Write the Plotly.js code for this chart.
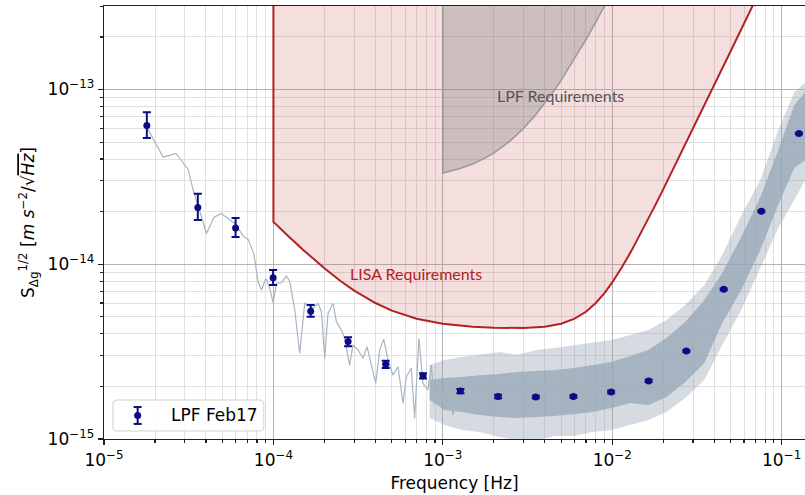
<!DOCTYPE html>
<html><head><meta charset="utf-8">
<script src="https://cdn.plot.ly/plotly-3.0.1.min.js"></script>
<style>html,body{margin:0;padding:0;background:#fff}#chart{width:805px;height:495px}</style>
</head><body><div id="chart"></div>
<script>
// ---- averaged data points (LPF Feb17) ----
const ptsF = [1.79e-5, 3.58e-5, 5.98e-5, 9.96e-5, 1.66e-4, 2.76e-4, 4.60e-4, 7.64e-4, 1.27e-3, 2.12e-3, 3.54e-3, 5.90e-3, 9.85e-3, 1.64e-2, 2.74e-2, 4.55e-2, 7.59e-2, 1.265e-1];
const ptsS = [6.23e-14, 2.11e-14, 1.61e-14, 8.38e-15, 5.38e-15, 3.61e-15, 2.68e-15, 2.30e-15, 1.88e-15, 1.75e-15, 1.74e-15, 1.75e-15, 1.86e-15, 2.15e-15, 3.19e-15, 7.19e-15, 2.01e-14, 5.60e-14];
const errPlus  = [1.19e-14, 4.2e-15, 2.3e-15, 8.9e-16, 4.7e-16, 2.1e-16, 1.2e-16, 8e-17, 5e-17, 4e-17, 3e-17, 3e-17, 3e-17, 3e-17, 4e-17, 8e-17, 2e-16, 5e-16];
const errMinus = [9.5e-15, 3.2e-15, 1.8e-15, 7.8e-16, 3.7e-16, 2.1e-16, 1.3e-16, 8e-17, 5e-17, 4e-17, 3e-17, 3e-17, 3e-17, 3e-17, 4e-17, 8e-17, 2e-16, 5e-16];

// ---- low-frequency part of the noise spectrum ----
const lineF = [1.785e-5, 2.237e-5, 2.657e-5, 3.14e-5, 3.36e-5, 3.65e-5, 4.03e-5, 4.45e-5, 4.91e-5, 5.92e-5, 6.69e-5, 7.09e-5, 7.66e-5, 8.12e-5, 8.51e-5, 9.02e-5, 9.52e-5, 9.96e-5, 1.043e-4, 1.116e-4, 1.194e-4, 1.249e-4, 1.337e-4, 1.430e-4, 1.531e-4, 1.714e-4, 1.834e-4, 1.921e-4, 2.009e-4, 2.101e-4, 2.249e-4, 2.355e-4, 2.520e-4, 2.636e-4, 2.82e-4, 2.95e-4, 3.16e-4, 3.38e-4, 3.57e-4, 3.79e-4, 4.02e-4, 4.24e-4, 4.48e-4, 4.75e-4, 5.08e-4, 5.44e-4, 5.82e-4, 6.09e-4, 6.52e-4, 6.82e-4, 7.23e-4, 7.63e-4, 8.17e-4, 8.55e-4, 8.94e-4, 9.57e-4, 1.025e-3, 1.072e-3, 1.147e-3, 1.227e-3];
const lineS = [6.11e-14, 4.10e-14, 4.31e-14, 3.49e-14, 2.66e-14, 2.04e-14, 1.50e-14, 1.853e-14, 1.954e-14, 1.713e-14, 1.436e-14, 1.388e-14, 1.154e-14, 7.94e-15, 7.12e-15, 8.30e-15, 7.28e-15, 6.02e-15, 7.78e-15, 7.84e-15, 8.56e-15, 7.94e-15, 5.47e-15, 3.09e-15, 5.98e-15, 5.60e-15, 5.98e-15, 5.35e-15, 2.90e-15, 5.24e-15, 5.98e-15, 4.69e-15, 4.20e-15, 3.77e-15, 2.65e-15, 3.45e-15, 3.23e-15, 2.90e-15, 3.38e-15, 2.65e-15, 2.08e-15, 3.23e-15, 3.72e-15, 2.83e-15, 2.32e-15, 2.59e-15, 1.602e-15, 2.27e-15, 2.54e-15, 1.315e-15, 3.77e-15, 2.08e-15, 1.91e-15, 2.65e-15, 1.602e-15, 1.993e-15, 1.531e-15, 2.18e-15, 1.373e-15, 1.827e-15];

// ---- high-frequency noise band (dense core and spike envelope) ----
const bandF = [8.36e-4, 1.025e-3, 1.29e-3, 1.65e-3, 2.16e-3, 2.76e-3, 3.57e-3, 4.56e-3, 5.99e-3, 7.64e-3, 9.89e-3, 1.28e-2, 1.635e-2, 2.09e-2, 2.70e-2, 3.50e-2, 4.46e-2, 5.78e-2, 7.48e-2, 9.55e-2, 0.1187, 0.1377];
const coreHi = [2.18e-15, 2.235e-15, 2.26e-15, 2.32e-15, 2.355e-15, 2.42e-15, 2.45e-15, 2.48e-15, 2.55e-15, 2.65e-15, 2.76e-15, 2.99e-15, 3.23e-15, 3.78e-15, 4.67e-15, 6.24e-15, 8.91e-15, 1.43e-14, 2.42e-14, 4.50e-14, 8.13e-14, 9.65e-14];
const coreLo = [1.673e-15, 1.467e-15, 1.428e-15, 1.373e-15, 1.337e-15, 1.32e-15, 1.337e-15, 1.355e-15, 1.391e-15, 1.428e-15, 1.506e-15, 1.608e-15, 1.567e-15, 1.740e-15, 2.12e-15, 2.72e-15, 4.61e-15, 7.12e-15, 1.206e-14, 2.18e-14, 3.55e-14, 3.94e-14];
const spikeHi = [2.65e-15, 2.83e-15, 2.95e-15, 3.03e-15, 3.15e-15, 3.03e-15, 3.23e-15, 3.32e-15, 3.45e-15, 3.59e-15, 3.69e-15, 3.94e-15, 4.20e-15, 4.80e-15, 5.84e-15, 7.60e-15, 1.129e-14, 1.91e-14, 3.03e-14, 5.85e-14, 9.65e-14, 1.10e-13];
const spikeLo = [1.32e-15, 1.203e-15, 1.127e-15, 1.098e-15, 1.028e-15, 0.98e-15, 0.98e-15, 1.041e-15, 1.041e-15, 1.098e-15, 1.127e-15, 1.203e-15, 1.285e-15, 1.428e-15, 1.717e-15, 2.18e-15, 3.45e-15, 5.47e-15, 9.51e-15, 1.61e-14, 2.33e-14, 3.03e-14];

// ---- requirement curves ----
const lisaF = [1e-4, 1.2e-4, 1.5e-4, 2e-4, 2.5e-4, 3e-4, 4e-4, 5e-4, 7e-4, 1e-3, 1.5e-3, 2e-3, 3e-3, 4e-3, 5e-3, 6e-3, 7e-3, 8e-3, 9e-3, 1e-2, 1.15e-2, 1.3e-2, 1.6e-2, 1.8e-2, 2e-2, 2.5e-2, 3e-2, 3.5e-2, 4e-2, 4.5e-2, 5e-2, 6e-2, 6.5e-2, 7e-2];
const lisaS = [1.748e-14, 1.476e-14, 1.208e-14, 9.48e-15, 8.0e-15, 7.07e-15, 6.0e-15, 5.43e-15, 4.88e-15, 4.57e-15, 4.39e-15, 4.33e-15, 4.32e-15, 4.39e-15, 4.57e-15, 4.88e-15, 5.35e-15, 6.00e-15, 6.84e-15, 7.87e-15, 9.73e-15, 1.197e-14, 1.748e-14, 2.188e-14, 2.684e-14, 4.16e-14, 5.98e-14, 8.13e-14, 1.061e-13, 1.342e-13, 1.657e-13, 2.385e-13, 2.80e-13, 3.247e-13];
const lpfF = [1e-3, 1.25e-3, 1.5e-3, 1.75e-3, 2e-3, 2.5e-3, 3e-3, 3.5e-3, 4e-3, 4.5e-3, 5e-3, 6e-3, 7e-3, 8e-3, 9e-3, 1e-2];
const lpfS = [3.33e-14, 3.52e-14, 3.75e-14, 4.02e-14, 4.33e-14, 5.08e-14, 6.0e-14, 7.08e-14, 8.33e-14, 9.75e-14, 1.133e-13, 1.5e-13, 1.933e-13, 2.433e-13, 3.0e-13, 3.633e-13];
const CEIL = 1e-12;

// ---- tick labels ----
const xTicks = [1e-5, 1e-4, 1e-3, 1e-2, 1e-1];
const xTickText = ['10<sup>−5</sup>', '10<sup>−4</sup>', '10<sup>−3</sup>', '10<sup>−2</sup>', '10<sup>−1</sup>'];
const yTicks = [1e-15, 1e-14, 1e-13];
const yTickText = ['10<sup>−15</sup>', '10<sup>−14</sup>', '10<sup>−13</sup>'];
const legendLabel = 'LPF Feb17';

function minorTicks(decades) {
  const out = [];
  decades.forEach(d => { for (let m = 2; m <= 9; m++) out.push(m * d); });
  return out;
}
const xMinor = minorTicks([1e-5, 1e-4, 1e-3, 1e-2, 1e-1]);
const yMinor = minorTicks([1e-16, 1e-15, 1e-14, 1e-13]);

function polygon(f, hi, lo) {
  return { x: f.concat(f.slice().reverse()), y: hi.concat(lo.slice().reverse()) };
}
const spikePoly = polygon(bandF, spikeHi, spikeLo);
const corePoly = polygon(bandF, coreHi, coreLo);

const NAVY = '#0b0b86';
const traces = [
  { x: [lisaF[0]].concat(lisaF, [lisaF[lisaF.length-1]]), y: [CEIL].concat(lisaS, [CEIL]),
    mode: 'lines', fill: 'toself', fillcolor: 'rgba(205,92,92,0.2)',
    line: { color: '#b22222', width: 2 }, showlegend: false, hoverinfo: 'skip' },
  { x: [lpfF[0]].concat(lpfF, [lpfF[lpfF.length-1]]), y: [CEIL].concat(lpfS, [CEIL]),
    mode: 'lines', fill: 'toself', fillcolor: 'rgba(128,128,128,0.33)',
    line: { color: 'rgba(150,150,150,0.95)', width: 1.5 }, showlegend: false, hoverinfo: 'skip' },
  { x: spikePoly.x, y: spikePoly.y, mode: 'lines', fill: 'toself', fillcolor: 'rgba(150,166,180,0.4)',
    line: { width: 0 }, showlegend: false, hoverinfo: 'skip' },
  { x: corePoly.x, y: corePoly.y, mode: 'lines', fill: 'toself', fillcolor: 'rgba(150,166,180,0.75)',
    line: { width: 0 }, showlegend: false, hoverinfo: 'skip' },
  { x: lineF, y: lineS, mode: 'lines', line: { color: '#a8b5c1', width: 1.2 }, showlegend: false, hoverinfo: 'skip' },
  { x: ptsF, y: ptsS, mode: 'markers', name: legendLabel, showlegend: false,
    marker: { color: NAVY, size: 7 },
    error_y: { type: 'data', array: errPlus, arrayminus: errMinus, color: NAVY, thickness: 2, width: 4 } }
];

const font = 'DejaVu Sans, sans-serif';

// custom legend box (paper coordinates)
const L = { x0: 0.0128, x1: 0.228, y0: 0.0185, y1: 0.090, rx: 0.006, ry: 0.009 };
const boxPath = `M ${L.x0+L.rx} ${L.y0} L ${L.x1-L.rx} ${L.y0} Q ${L.x1} ${L.y0} ${L.x1} ${L.y0+L.ry} L ${L.x1} ${L.y1-L.ry} Q ${L.x1} ${L.y1} ${L.x1-L.rx} ${L.y1} L ${L.x0+L.rx} ${L.y1} Q ${L.x0} ${L.y1} ${L.x0} ${L.y1-L.ry} L ${L.x0} ${L.y0+L.ry} Q ${L.x0} ${L.y0} ${L.x0+L.rx} ${L.y0} Z`;
const gx = 0.048, gy = 0.0543, gh = 0.0195, gc = 0.0057, mr = 0.005, mry = 0.0081;
const shapes = [
  { type: 'path', xref: 'paper', yref: 'paper', path: boxPath, fillcolor: 'rgba(255,255,255,0.85)', line: { color: '#d0d0d0', width: 1 }, layer: 'above' },
  { type: 'line', xref: 'paper', yref: 'paper', x0: gx, x1: gx, y0: gy - gh, y1: gy + gh, line: { color: NAVY, width: 2 }, layer: 'above' },
  { type: 'line', xref: 'paper', yref: 'paper', x0: gx - gc, x1: gx + gc, y0: gy - gh, y1: gy - gh, line: { color: NAVY, width: 2 }, layer: 'above' },
  { type: 'line', xref: 'paper', yref: 'paper', x0: gx - gc, x1: gx + gc, y0: gy + gh, y1: gy + gh, line: { color: NAVY, width: 2 }, layer: 'above' },
  { type: 'circle', xref: 'paper', yref: 'paper', x0: gx - mr, x1: gx + mr, y0: gy - mry, y1: gy + mry, fillcolor: NAVY, line: { color: NAVY, width: 0 }, layer: 'above' }
];

const layout = {
  width: 805, height: 495,
  margin: { l: 104, r: 0, t: 6, b: 56 },
  paper_bgcolor: '#ffffff', plot_bgcolor: '#ffffff',
  font: { family: font, size: 17, color: '#000' },
  showlegend: false,
  xaxis: {
    type: 'log', range: [-5, -0.862], tickmode: 'array', tickvals: xTicks, ticktext: xTickText,
    showline: true, linecolor: '#222', linewidth: 1.3, mirror: true,
    ticks: 'outside', ticklen: 5, tickwidth: 1.2, tickcolor: '#222',
    showgrid: true, gridcolor: '#b4b4b4', gridwidth: 1,
    minor: { tickmode: 'array', tickvals: xMinor, ticks: 'outside', ticklen: 3, tickcolor: '#222', showgrid: true, gridcolor: '#e0e0e0', gridwidth: 1 },
    tickfont: { family: font, size: 17 },
    title: { text: 'Frequency [Hz]', font: { family: font, size: 17 }, standoff: 8 },
    zeroline: false
  },
  yaxis: {
    type: 'log', range: [-15, -12.522], tickmode: 'array', tickvals: yTicks, ticktext: yTickText,
    showline: true, linecolor: '#222', linewidth: 1.3,
    ticks: 'outside', ticklen: 5, tickwidth: 1.2, tickcolor: '#222',
    showgrid: true, gridcolor: '#b4b4b4', gridwidth: 1,
    minor: { tickmode: 'array', tickvals: yMinor, ticks: 'outside', ticklen: 3, tickcolor: '#222', showgrid: true, gridcolor: '#e0e0e0', gridwidth: 1 },
    tickfont: { family: font, size: 17 },
    title: { text: 'S<sub>Δg</sub><sup>1/2</sup> [<i>m s</i><sup>−2</sup>/√<span style="text-decoration:overline"><i>Hz</i></span>]', font: { family: font, size: 17 }, standoff: 8 },
    zeroline: false
  },
  shapes: shapes,
  annotations: [
    { xref: 'x', yref: 'y', x: -2.305, y: -13.033, text: 'LPF Requirements', showarrow: false,
      font: { family: 'Lato, sans-serif', size: 16, color: '#555555' } },
    { xref: 'x', yref: 'y', x: -3.157, y: -14.050, text: 'LISA Requirements', showarrow: false,
      font: { family: 'Lato, sans-serif', size: 16, color: '#b22222' } },
    { xref: 'paper', yref: 'paper', x: 0.0927, y: 0.0543, xanchor: 'left', yanchor: 'middle', text: legendLabel, showarrow: false,
      font: { family: font, size: 17, color: '#000' } }
  ]
};

Plotly.newPlot('chart', traces, layout, { displayModeBar: false, staticPlot: true });
</script>
</body></html>
